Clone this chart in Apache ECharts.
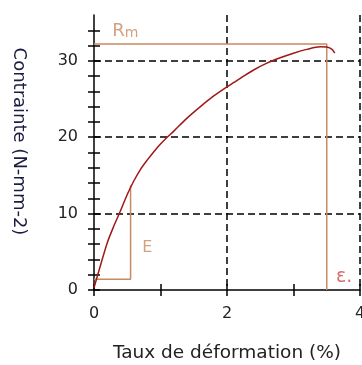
<!DOCTYPE html>
<html>
<head>
<meta charset="utf-8">
<script src="https://cdn.jsdelivr.net/npm/echarts@6/dist/echarts.min.js"></script>
<style>
  html, body { margin: 0; padding: 0; background: #fff; }
  #chart { width: 362px; height: 365px; }
</style>
</head>
<body>
<div id="chart"></div>
<script>
// courbe contrainte / déformation
var strain = [0, 0.1, 0.2, 0.3, 0.4, 0.5, 0.6, 0.7, 0.8, 0.9, 1.0, 1.1, 1.2, 1.4, 1.6, 1.8, 2.0, 2.2, 2.4, 2.6, 2.8, 3.0, 3.2, 3.4, 3.5, 3.58, 3.62]
var stress = [0.3, 3.3, 6.2, 8.4, 10.4, 12.5, 14.3, 15.8, 17.0, 18.1, 19.1, 20.0, 20.8, 22.5, 24.0, 25.4, 26.6, 27.7, 28.8, 29.7, 30.4, 31.0, 31.5, 31.85, 31.8, 31.5, 31.0]

// Rm (résistance max) et triangle du module E
var rmX = [0, 3.5, 3.5]
var rmY = [32.2, 32.2, 0]
var eX = [0, 0.55, 0.55]
var eY = [1.4, 1.4, 13.7]

// étiquettes
var noteText = ['Rm', 'E', 'ε.']
var noteX = [0.47, 0.8, 3.76]
var noteY = [33.9, 5.5, 1.7]

var xTicks = [0, 2, 4]
var yTicks = [0, 10, 20, 30]
var xMinorTicks = [0, 1, 2, 3, 4]
var yMinorTicks = [0, 2, 4, 6, 8, 10, 12, 14, 16, 18, 20, 22, 24, 26, 28, 30, 32, 34]

function pairs(xs, ys) {
  return xs.map(function (x, i) { return [x, ys[i]] })
}

var textColor = '#222'
var tan = '#c88a60'
var tickStyle = { color: '#000', width: 1.5 }

var chart = echarts.init(document.getElementById('chart'))

var baseX = { type: 'value', min: 0, max: 4, gridIndex: 0 }
var baseY = { type: 'value', min: 0, max: 36, gridIndex: 0 }

// axes vides qui ne servent qu'aux graduations (dedans / dehors)
function tickAxis(base, values, inside) {
  return Object.assign({}, base, {
    axisLine: { show: false },
    axisTick: { show: true, inside: inside, length: 6, customValues: values, lineStyle: tickStyle },
    axisLabel: { show: false },
    splitLine: { show: false }
  })
}

var options = {
  animation: false,
  backgroundColor: '#fff',
  grid: { left: 94, right: 2, top: 15, bottom: 75, outerBoundsMode: 'none' },
  xAxis: [
    Object.assign({}, baseX, {
      interval: 2,
      name: 'Taux de déformation (%)',
      nameLocation: 'middle',
      nameGap: 54,
      nameTextStyle: { color: textColor, fontSize: 18.5, fontFamily: 'DejaVu Sans' },
      axisLine: { show: true, lineStyle: { color: '#000', width: 1.5 } },
      axisTick: { show: false },
      axisLabel: {
        margin: 16, color: textColor, fontSize: 16, fontFamily: 'DejaVu Sans',
        formatter: function (v) { return xTicks.indexOf(v) >= 0 ? String(v) : '' }
      },
      splitLine: {
        show: true, showMinLine: false,
        lineStyle: { color: '#000', width: 1.5, type: [7, 4] }
      }
    }),
    tickAxis(baseX, xMinorTicks, false),
    tickAxis(baseX, xMinorTicks, true)
  ],
  yAxis: [
    Object.assign({}, baseY, {
      interval: 10,
      name: 'Contrainte (N-mm-2)',
      nameLocation: 'middle',
      nameRotate: -90,
      nameGap: 66,
      nameTextStyle: {
        color: '#1c1c40', fontSize: 18, fontFamily: 'DejaVu Sans',
        padding: [0, 22, 0, 0]
      },
      axisLine: { show: true, lineStyle: { color: '#000', width: 1.5 } },
      axisTick: { show: false },
      axisLabel: {
        margin: 16, color: textColor, fontSize: 16, fontFamily: 'DejaVu Sans',
        formatter: function (v) { return yTicks.indexOf(v) >= 0 ? String(v) : '' }
      },
      splitLine: {
        show: true, showMinLine: false, showMaxLine: false,
        lineStyle: { color: '#000', width: 1.5, type: [7, 4] }
      }
    }),
    tickAxis(baseY, yMinorTicks, false),
    tickAxis(baseY, yMinorTicks, true)
  ],
  series: [
    {
      name: 'Rm',
      type: 'line',
      xAxisIndex: 0, yAxisIndex: 0,
      data: pairs(rmX, rmY),
      symbol: 'none',
      lineStyle: { color: tan, width: 1.5 },
      z: 3
    },
    {
      name: 'E',
      type: 'line',
      xAxisIndex: 0, yAxisIndex: 0,
      data: pairs(eX, eY),
      symbol: 'none',
      lineStyle: { color: tan, width: 1.5 },
      z: 3
    },
    {
      name: 'courbe',
      type: 'line',
      xAxisIndex: 0, yAxisIndex: 0,
      data: pairs(strain, stress),
      symbol: 'none',
      smooth: 0.3,
      lineStyle: { color: '#a01818', width: 1.5 },
      z: 4
    },
    {
      name: 'notes',
      type: 'scatter',
      xAxisIndex: 0, yAxisIndex: 0,
      symbolSize: 0,
      data: noteText.map(function (t, i) { return { value: [noteX[i], noteY[i]], name: t } }),
      label: {
        show: true,
        position: 'inside',
        formatter: function (p) {
          if (p.name === 'Rm') return '{r|R}{m|m}'
          if (p.name === 'E') return '{e|E}'
          return '{eps|ε.}'
        },
        rich: {
          r: { color: tan, fontSize: 18, fontFamily: 'DejaVu Sans' },
          m: { color: tan, fontSize: 14, fontFamily: 'DejaVu Sans', verticalAlign: 'bottom' },
          e: { color: tan, fontSize: 16, fontFamily: 'DejaVu Sans' },
          eps: { color: '#d04848', fontSize: 19, fontFamily: 'DejaVu Sans' }
        }
      },
      silent: true,
      z: 5
    }
  ]
}

chart.setOption(options)
</script>
</body>
</html>
